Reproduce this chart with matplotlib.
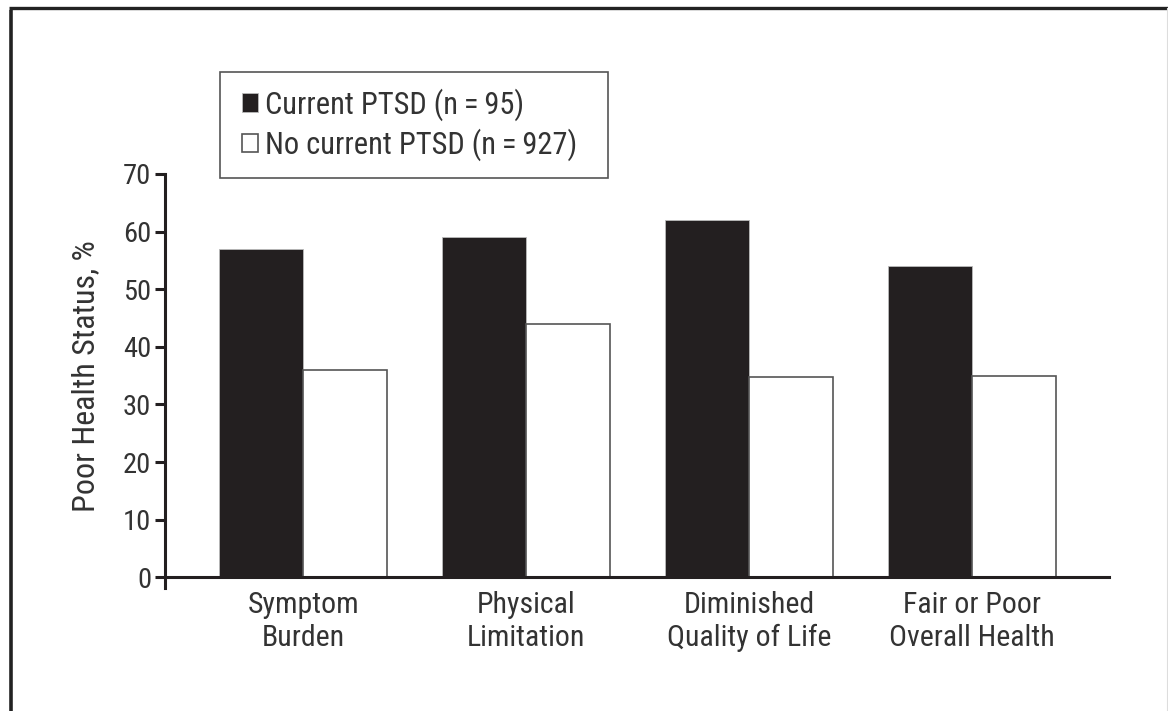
import matplotlib
matplotlib.use("Agg")
import matplotlib.pyplot as plt
from matplotlib.lines import Line2D
from matplotlib.patches import Rectangle
import numpy as np

categories = ["Symptom\nBurden", "Physical\nLimitation", "Diminished\nQuality of Life", "Fair or Poor\nOverall Health"]
current_ptsd = [57, 59, 62, 54]
no_current_ptsd = [36, 44, 34.8, 35]
series_labels = ["Current PTSD (n\u2009=\u200995)", "No current PTSD (n\u2009=\u2009927)"]
yticks = [0, 10, 20, 30, 40, 50, 60, 70]

FONT = ["Roboto Condensed", "Archivo Narrow", "DejaVu Sans"]
plt.rcParams['font.family'] = FONT
TXT = "#333333"
BLACK = "#231f20"

W, H = 1168, 711
fig = plt.figure(figsize=(W / 100, H / 100), dpi=100)
fig.patch.set_facecolor("white")

def fx(px):
    return px / W

def fy(py):
    return 1 - py / H

ax = fig.add_axes([fx(165), fy(588), fx(1109) - fx(165), fy(174) - fy(588)])

x = np.arange(len(categories))
bw = 0.377
b1 = ax.bar(x - bw / 2, current_ptsd, width=bw, color=BLACK, edgecolor="#bbbbbb", linewidth=0.6, label=series_labels[0])
b2 = ax.bar(x + bw / 2, no_current_ptsd, width=bw, color="white", edgecolor="#555555", linewidth=1.2, label=series_labels[1])

ax.set_xlim(-0.62, 3.615)
ax.set_ylim(-1.85, 70)
ax.set_yticks(yticks)
ax.set_xticks(x)
ax.set_xticklabels(categories)
ax.tick_params(axis='x', length=0, pad=10, labelsize=21.5, labelcolor=TXT)
ax.tick_params(axis='y', length=7, width=2.2, color=BLACK, pad=3, labelsize=20.5, labelcolor=TXT)
for lab in ax.get_xticklabels():
    lab.set_linespacing(1.2)

for s in ["top", "right"]:
    ax.spines[s].set_visible(False)
ax.spines["bottom"].set_position(("data", 0))
ax.spines["bottom"].set_linewidth(2.2)
ax.spines["bottom"].set_color(BLACK)
ax.spines["left"].set_linewidth(2.2)
ax.spines["left"].set_color(BLACK)

ax.set_ylabel("Poor Health Status, %", fontsize=23, color=TXT)
ax.yaxis.set_label_coords(-0.069, (35 + 1.85) / 71.85)

# legend frame drawn explicitly (transparent inside), legend content without frame
fig.add_artist(Rectangle((fx(220), fy(178)), fx(608) - fx(220), fy(72) - fy(178),
                         transform=fig.transFigure, facecolor="none", edgecolor="#555555",
                         linewidth=1.2, zorder=5))
leg = ax.legend(handles=[b1, b2], loc="upper left",
                bbox_to_anchor=(fx(242), fy(88)), bbox_transform=fig.transFigure,
                prop={'family': FONT, 'size': 22}, frameon=False, borderaxespad=0,
                handlelength=0.53, handleheight=0.53, handletextpad=0.22,
                borderpad=0, labelspacing=0.25)
for t in leg.get_texts():
    t.set_color(TXT)

# figure frame
fig.add_artist(Line2D([fx(10.5), fx(10.5)], [0, fy(9.5)], transform=fig.transFigure, color="#222222", linewidth=2.6, solid_capstyle="butt"))
fig.add_artist(Line2D([fx(9.2), 1], [fy(8.3), fy(8.3)], transform=fig.transFigure, color="#222222", linewidth=2.4, solid_capstyle="butt"))
fig.add_artist(Line2D([fx(1167), fx(1167)], [0, fy(8)], transform=fig.transFigure, color="#dddddd", linewidth=0.8))

fig.savefig("out.png", dpi=100, facecolor="white")
